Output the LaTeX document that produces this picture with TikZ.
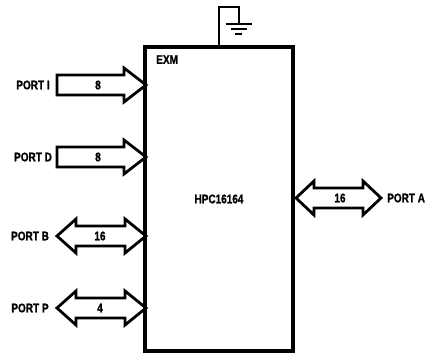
\documentclass[tikz,border=0pt]{standalone}
\usepackage{fontspec}
\setmainfont{Liberation Sans}[FakeStretch=0.8,BoldFeatures={FakeBold=1.2}]
\usetikzlibrary{positioning}
\tikzset{
  bus/.style={line width=2.8pt, line join=miter},
  lbl/.style={font=\bfseries\fontsize{12.5}{12.5}\selectfont, inner sep=0pt},
}
\begin{document}
\begin{tikzpicture}[x=1pt,y=-1pt]
      \useasboundingbox (0,0) rectangle (428,355);
      % chip
      \node[draw, line width=3.8pt, minimum width=148, minimum height=304, lbl] (chip) at (219,199) {HPC16164};
      \node[lbl, below right=10pt and 13pt of chip.north west] (exm) {EXM};
      % ground
      \coordinate (gnd) at (239,24);
      \draw[line width=2.6pt] (chip.north west -| 219,0) -- (219,7) -- (239,7) -- (gnd);
      \draw[line width=2.6pt] (226,24) -- (252,24) (231,29) -- (247,29) (235,34) -- (242,34);
      % inputs
      \foreach \y/\w/\lab in {85/8/PORT I,157/8/PORT D}{
        \draw[bus] (57,\y-10) -- (124,\y-10) -- (124,\y-17) -- (146,\y)
          -- (124,\y+17) -- (124,\y+10) -- (57,\y+10) -- cycle;
        \node[lbl] at (98,\y) {\w};
        \node[lbl] at (33,\y) {\lab};
      }
      % bidirectional
      \foreach \y/\w/\lab in {236/16/PORT B,308/4/PORT P}{
        \draw[bus] (57,\y) -- (76,\y-17) -- (76,\y-10) -- (125,\y-10) -- (125,\y-17) -- (146,\y)
          -- (125,\y+17) -- (125,\y+10) -- (76,\y+10) -- (76,\y+17) -- cycle;
        \node[lbl] at (100,\y) {\w};
        \node[lbl] at (30,\y) {\lab};
      }
      \draw[bus] (296,198) -- (314,181) -- (314,188) -- (363,188) -- (363,181) -- (381,198)
        -- (363,215) -- (363,208) -- (314,208) -- (314,215) -- cycle;
      \node[lbl] at (340,198) {16};
      \node[lbl, anchor=west] at (387,198) {PORT A};
\end{tikzpicture}
\end{document}
